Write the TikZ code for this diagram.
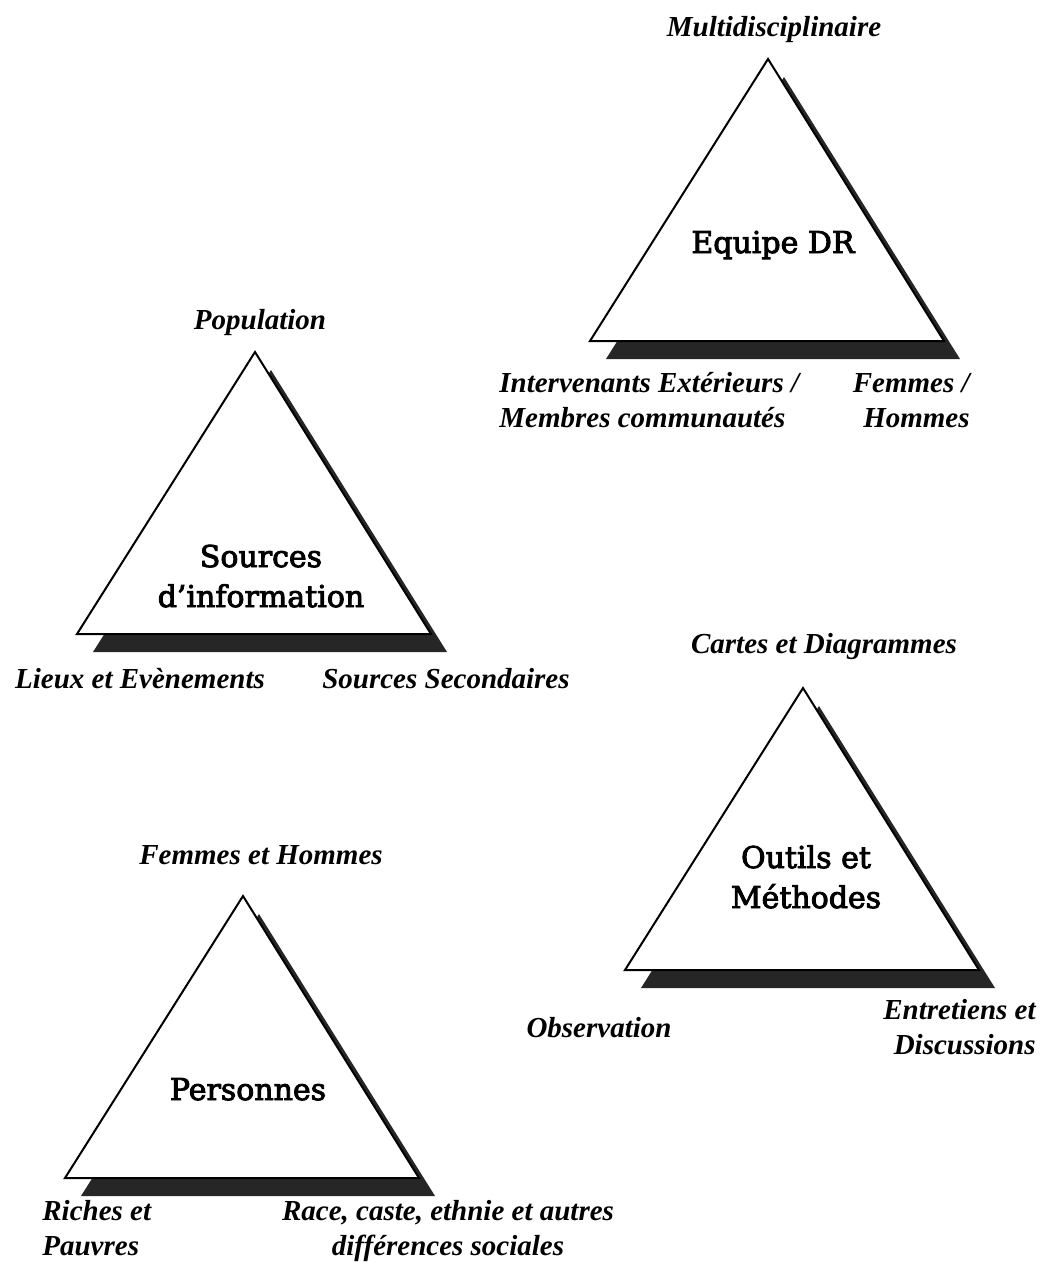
\documentclass[tikz,border=0pt]{standalone}
\usepackage{fontspec}
\setmainfont{Liberation Serif}
\newfontfamily\titrefont[FakeBold=3]{DejaVu Serif}
\begin{document}
\begin{tikzpicture}[x=0.5pt,y=-0.5pt,
	ombre/.style={fill=black!85,draw=none},
	tri/.style={fill=white,draw=black,line width=1pt},
	coin/.style={font=\fontsize{14.5}{17.5}\selectfont\bfseries\itshape,inner sep=0pt},
	centre/.style={font=\titrefont\fontsize{15}{20}\selectfont,align=center,inner sep=0pt}]
	\useasboundingbox (0,0) rectangle (1041,1263);
	% triangles avec ombre
	\foreach \x/\y in {768/59,255/352,803/688,243/896}
	{
		\fill[ombre] (\x+16,\y+18) -- ++(-178,282) -- ++(354,0) -- cycle;
		\filldraw[tri] (\x,\y) -- ++(-178,282) -- ++(354,0) -- cycle;
	}
	
	% Equipe DR
	\node[centre,anchor=base] (equipe) at (773,253) {Equipe DR};
	\node[coin,anchor=base] (multi) at (774,37) {Multidisciplinaire};
	\node[coin,anchor=base west,align=left] (interv) at (499,427) {Intervenants Extérieurs /\\Membres communautés};
	\node[coin,anchor=base east,align=right] (femmes) at (970,427) {Femmes /\\Hommes};
	
	% Sources d'information
	\node[centre,anchor=base] (sources) at (261,607) {Sources\\d’information};
	\node[coin,anchor=base] (popu) at (260,329) {Population};
	\node[coin,anchor=base] (lieux) at (140,688) {Lieux et Evènements};
	\node[coin,anchor=base] (second) at (446,688) {Sources Secondaires};
	
	% Outils et Methodes
	\node[centre,anchor=base] (outils) at (806,908) {Outils et\\Méthodes};
	\node[coin,anchor=base] (cartes) at (824,653) {Cartes et Diagrammes};
	\node[coin,anchor=base] (obs) at (599,1037) {Observation};
	\node[coin,anchor=base east,align=right] (entre) at (1036,1054) {Entretiens et\\Discussions};
	
	% Personnes
	\node[centre,anchor=base] (pers) at (248,1100) {Personnes};
	\node[coin,anchor=base] (fh) at (261,864) {Femmes et Hommes};
	\node[coin,anchor=base west,align=left] (riches) at (42,1255) {Riches et\\Pauvres};
	\node[coin,anchor=base,align=center] (race) at (448,1255) {Race, caste, ethnie et autres\\différences sociales};
\end{tikzpicture}
\end{document}
